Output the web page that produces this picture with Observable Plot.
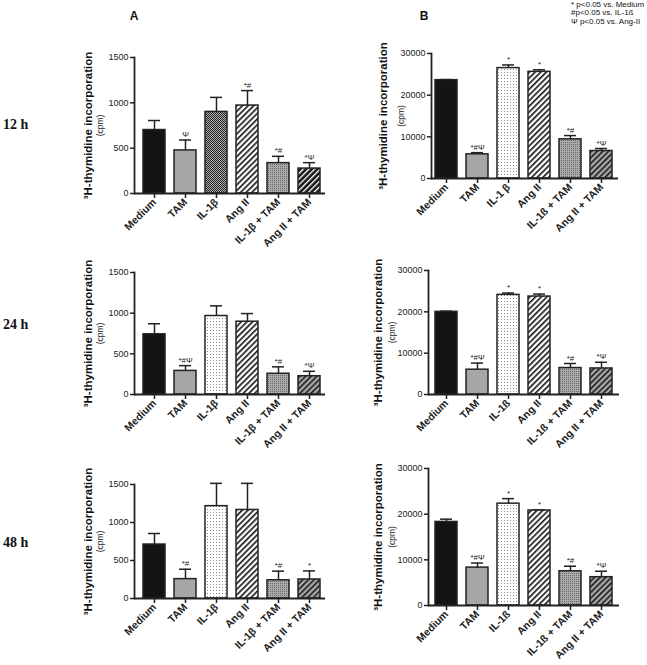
<!DOCTYPE html>
<html><head><meta charset="utf-8">
<script src="https://cdn.jsdelivr.net/npm/d3@7"></script>
<script src="https://cdn.jsdelivr.net/npm/@observablehq/plot@0.6"></script>
<style>
body{margin:0;background:#fff;}
#root{position:relative;width:647px;height:665px;overflow:hidden;font-family:"Liberation Sans",Arial,sans-serif;color:#111;}
#root svg.plot{position:absolute;overflow:visible;}
.lab{position:absolute;white-space:nowrap;}
.row{font-family:"Liberation Serif","Times New Roman",serif;font-weight:bold;font-size:14px;transform:translateY(-50%);}
.panel{font-weight:bold;font-size:12px;transform:translate(-50%,-50%);}
.leg{font-size:8px;line-height:8.7px;}
</style></head><body>
<svg width="0" height="0" style="position:absolute">
<defs>
<pattern id="check" width="2" height="2" patternUnits="userSpaceOnUse">
<rect width="2" height="2" fill="#b4b4b4"/><rect width="1" height="1" fill="#1e1e1e"/><rect x="1" y="1" width="1" height="1" fill="#1e1e1e"/>
</pattern>
<pattern id="dotW" width="3" height="3" patternUnits="userSpaceOnUse">
<rect width="3" height="3" fill="#ffffff"/><rect x="1" y="1" width="1" height="1" fill="#8a8a8a"/>
</pattern>
<pattern id="dotG" width="2" height="2" patternUnits="userSpaceOnUse">
<rect width="2" height="2" fill="#ababab"/><rect width="1" height="1" fill="#6a6a6a"/>
</pattern>
<pattern id="stripeW" width="4" height="4" patternUnits="userSpaceOnUse" patternTransform="rotate(45)">
<rect width="4" height="4" fill="#ffffff"/><rect width="1.6" height="4" fill="#111"/>
</pattern>
<pattern id="stripeK" width="4" height="4" patternUnits="userSpaceOnUse" patternTransform="rotate(45)">
<rect width="4" height="4" fill="#111"/><rect width="1.4" height="4" fill="#ffffff"/>
</pattern>
<pattern id="stripeG" width="4" height="4" patternUnits="userSpaceOnUse" patternTransform="rotate(45)">
<rect width="4" height="4" fill="#a8a8a8"/><rect width="1.5" height="4" fill="#111"/>
</pattern>
</defs>
</svg>
<div id="root"></div>
<script>
// ---- data ----
const labelsA   = ["Medium","TAM","IL-1β","Ang II","IL-1β + TAM","Ang II + TAM"];
const labelsB12 = ["Medium","TAM","IL-1 β","Ang II","IL-1ß + TAM","Ang II + TAM"];
const labelsB   = ["Medium","TAM","IL-1ß","Ang II","IL-1ß + TAM","Ang II + TAM"];
const ticksA = [0, 500, 1000, 1500];
const ticksB = [0, 10000, 20000, 30000];
const rowLabels = ["12 h", "24 h", "48 h"];
const legendLines = ["* p<0.05 vs. Medium", "#p<0.05 vs. IL-1ß", "Ψ p<0.05 vs. Ang-II"];

const meanA12 = [700, 475, 900, 970, 335, 275];
const errA12  = [105, 115, 160, 165, 75, 65];
const noteA12 = ["", "Ψ", "", "*#", "*#", "*Ψ"];
const meanA24 = [740, 290, 965, 895, 255, 225];
const errA24  = [130, 65, 125, 100, 85, 60];
const noteA24 = ["", "*#Ψ", "", "", "*#", "*Ψ"];
const meanA48 = [710, 255, 1215, 1165, 240, 250];
const errA48  = [145, 130, 300, 350, 120, 113];
const noteA48 = ["", "*#", "", "", "*#", "*"];

const meanB12 = [23600, 5800, 26500, 25600, 9400, 6600];
const errB12  = [150, 400, 750, 500, 900, 600];
const noteB12 = ["", "*#Ψ", "*", "*", "*#", "*Ψ"];
const meanB24 = [20000, 6000, 24100, 23700, 6400, 6300];
const errB24  = [150, 1600, 450, 600, 1100, 1500];
const noteB24 = ["", "*#Ψ", "*", "*", "*#", "*Ψ"];
const meanB48 = [18300, 8300, 22300, 20800, 7500, 6200];
const errB48  = [600, 1000, 1100, 150, 1100, 1300];
const noteB48 = ["", "*#Ψ", "*", "*", "*#", "*Ψ"];

// ---- styles ----
const fillStyle = {black:"#141414", gray:"#a6a6a6", check:"url(#check)", dotW:"url(#dotW)", dotG:"url(#dotG)",
  stripeW:"url(#stripeW)", stripeK:"url(#stripeK)", stripeG:"url(#stripeG)"};
const patA12 = ["black","gray","check","stripeW","dotG","stripeK"];
const patStd = ["black","gray","dotW","stripeW","dotG","stripeG"];

const root = document.getElementById("root");

function panel(s) {
  const ml = 78, mr = 8, mt = 15, mb = 70;
  const data = s.labels.map((c, i) => ({cat: c, mean: s.means[i], top: s.means[i] + s.errs[i],
    note: s.notes[i], fill: fillStyle[s.pats[i]]}));
  const pw = s.axisEnd - s.axisX, ph = s.y0 - s.yTop;
  const svg = Plot.plot({
    width: ml + pw + mr, height: mt + ph + mb,
    marginLeft: ml, marginRight: mr, marginTop: mt, marginBottom: mb,
    style: {background: "transparent", fontFamily: "'Liberation Sans', Arial, sans-serif", color: "#222"},
    x: {type: "band", domain: s.labels, range: [ml + s.off, ml + pw + s.off], paddingInner: 0.3, paddingOuter: 0.15, axis: null},
    y: {domain: [0, s.yMax], axis: null},
    color: {type: "identity"},
    marks: [
      Plot.ruleX(data, {x: "cat", y1: "mean", y2: "top", stroke: "#222", strokeWidth: 1.5}),
      Plot.tickY(data, {x: "cat", y: "top", stroke: "#222", strokeWidth: 1.5, insetLeft: 5, insetRight: 5}),
      Plot.barY(data, {x: "cat", y: "mean", fill: "fill", stroke: "#222", strokeWidth: 1.5}),
      Plot.text(data, {x: "cat", y: "top", text: "note", dy: -3, lineAnchor: "bottom", fontSize: 8, fill: "#222"}),
      Plot.ruleY([0], {stroke: "#222", strokeWidth: 1.8}),
      Plot.frame({anchor: "left", stroke: "#222", strokeWidth: 1.8}),
      Plot.axisY({ticks: s.ticks, tickFormat: d3.format("d"), tickSize: 4, tickPadding: 2, fontSize: 9, strokeWidth: 1.5, label: null}),
      Plot.axisX({tickRotate: -45, tickSize: 5, tickPadding: 2, fontSize: 10.5, fontWeight: "bold", strokeWidth: 1.5, label: null}),
      Plot.text(["³H-thymidine incorporation"], {text: d => d, frameAnchor: "left", textAnchor: "middle", rotate: -90, dx: s.labDx, fontSize: 11.5, fontWeight: "bold", fill: "#111"}),
      Plot.text(["(cpm)"], {text: d => d, frameAnchor: "left", textAnchor: "middle", rotate: -90, dx: s.cpmDx, fontSize: 8.5, fill: "#222"})
    ]
  });
  svg.classList.add("plot");
  svg.style.left = (s.axisX - ml) + "px";
  svg.style.top = (s.yTop - mt) + "px";
  root.appendChild(svg);
}

panel({axisX:134, axisEnd:325, yTop:57,  y0:193, yMax:1500, ticks:ticksA, labels:labelsA, means:meanA12, errs:errA12, notes:noteA12, pats:patA12, off:2, labDx:-46, cpmDx:-34});
panel({axisX:134, axisEnd:325, yTop:272, y0:394, yMax:1500, ticks:ticksA, labels:labelsA, means:meanA24, errs:errA24, notes:noteA24, pats:patStd, off:2, labDx:-46, cpmDx:-34});
panel({axisX:134, axisEnd:325, yTop:484, y0:598, yMax:1500, ticks:ticksA, labels:labelsA, means:meanA48, errs:errA48, notes:noteA48, pats:patStd, off:2, labDx:-46, cpmDx:-34});
panel({axisX:431, axisEnd:618, yTop:53,  y0:178, yMax:30000, ticks:ticksB, labels:labelsB12, means:meanB12, errs:errB12, notes:noteB12, pats:patStd, off:-1, labDx:-48, cpmDx:-30});
panel({axisX:428, axisEnd:619, yTop:270, y0:394, yMax:30000, ticks:ticksB, labels:labelsB, means:meanB24, errs:errB24, notes:noteB24, pats:patStd, off:0, labDx:-50, cpmDx:-36});
panel({axisX:428, axisEnd:619, yTop:468, y0:605, yMax:30000, ticks:ticksB, labels:labelsB, means:meanB48, errs:errB48, notes:noteB48, pats:patStd, off:0, labDx:-50, cpmDx:-36});

function lab(text, cls, x, y) {
  const d = document.createElement("div");
  d.className = "lab " + cls; d.textContent = text;
  d.style.left = x + "px"; d.style.top = y + "px";
  root.appendChild(d);
}
lab("A", "panel", 134, 16);
lab("B", "panel", 424, 16);
[125, 325, 543].forEach((y, i) => lab(rowLabels[i], "row", 3, y));
legendLines.forEach((t, i) => lab(t, "leg", 571, 0.5 + i * 8.7));
</script>
</body></html>
